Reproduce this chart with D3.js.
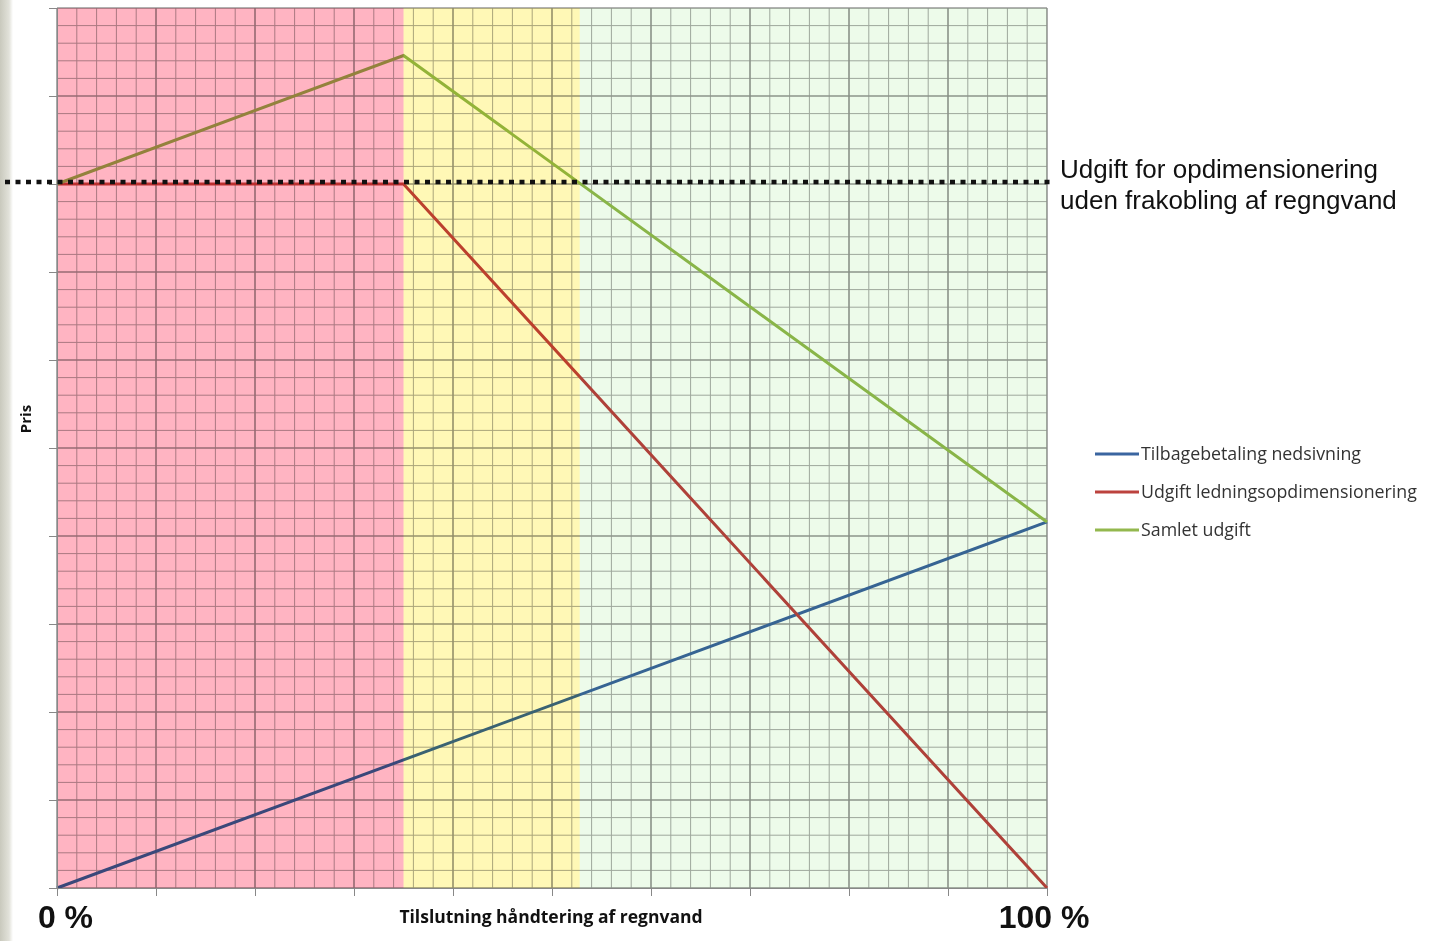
<!DOCTYPE html>
<html>
<head>
<meta charset="utf-8">
<script src="https://cdn.jsdelivr.net/npm/d3@7"></script>
<style>
  body { margin: 0; background: #fff; }
  svg { display: block; }
</style>
</head>
<body>
<div id="chart"></div>
<script>
// data (x in %, y in price units 0..10)
const blueSeries = [[0, 0], [100, 4.16]];
const redSeries = [[0, 8], [35, 8], [100, 0]];
const greenSeries = [[0, 8], [35, 9.46], [100, 4.16]];
const seriesNames = ["Tilbagebetaling nedsivning", "Udgift ledningsopdimensionering", "Samlet udgift"];
const seriesColors = ["#3a65a0", "#bc423e", "#93b84e"];
const bandStops = [0, 35, 52.8, 100];
const bandColors = ["#ffb4c2", "#fff8b6", "#edfbea"];
const thresholdValue = 8;
const thresholdLabel = ["Udgift for opdimensionering", "uden frakobling af regngvand"];

// setting up constants
const FRAME_WIDTH = 1429;
const FRAME_HEIGHT = 941;
const MARGINS = {left: 57, right: 382, top: 8, bottom: 53};
const VIS_WIDTH = FRAME_WIDTH - MARGINS.left - MARGINS.right;
const VIS_HEIGHT = FRAME_HEIGHT - MARGINS.top - MARGINS.bottom;

const svg = d3.select("#chart").append("svg")
  .attr("width", FRAME_WIDTH)
  .attr("height", FRAME_HEIGHT);

// left slide shadow strip
const grad = svg.append("defs").append("linearGradient").attr("id", "edge");
grad.append("stop").attr("offset", "0%").attr("stop-color", "#c9c9bd");
grad.append("stop").attr("offset", "70%").attr("stop-color", "#e2e2da");
grad.append("stop").attr("offset", "100%").attr("stop-color", "#ffffff");
svg.append("rect").attr("x", 0).attr("y", 0).attr("width", 13).attr("height", FRAME_HEIGHT)
  .attr("fill", "url(#edge)");

const x = d3.scaleLinear().domain([0, 100]).range([MARGINS.left, MARGINS.left + VIS_WIDTH]);
const y = d3.scaleLinear().domain([0, 10]).range([MARGINS.top + VIS_HEIGHT, MARGINS.top]);

const plot = svg.append("g");

// grid: minor lines then major
const minorX = d3.range(0, 100.01, 2), minorY = d3.range(0, 10.01, 0.2);
plot.append("g").selectAll("line").data(minorX).join("line")
  .attr("x1", d => x(d)).attr("x2", d => x(d))
  .attr("y1", y(0)).attr("y2", y(10))
  .attr("stroke", "#aaaaaa").attr("stroke-width", 1);
plot.append("g").selectAll("line").data(minorY).join("line")
  .attr("x1", x(0)).attr("x2", x(100))
  .attr("y1", d => y(d)).attr("y2", d => y(d))
  .attr("stroke", "#aaaaaa").attr("stroke-width", 1);
plot.append("g").selectAll("line").data(d3.range(0, 101, 10)).join("line")
  .attr("x1", d => x(d)).attr("x2", d => x(d))
  .attr("y1", y(0)).attr("y2", y(10))
  .attr("stroke", "#8e8e8e").attr("stroke-width", 1.2);
plot.append("g").selectAll("line").data(d3.range(0, 11, 1)).join("line")
  .attr("x1", x(0)).attr("x2", x(100))
  .attr("y1", d => y(d)).attr("y2", d => y(d))
  .attr("stroke", "#8e8e8e").attr("stroke-width", 1.2);

// axes (ticks only)
svg.append("g")
  .attr("transform", `translate(0, ${y(0)})`)
  .call(d3.axisBottom(x).tickValues(d3.range(0, 101, 10)).tickSize(8).tickFormat(""))
  .call(g => g.select(".domain").attr("stroke", "#888"))
  .call(g => g.selectAll(".tick line").attr("stroke", "#888"));
svg.append("g")
  .attr("transform", `translate(${x(0)}, 0)`)
  .call(d3.axisLeft(y).tickValues(d3.range(0, 11, 1)).tickSize(8).tickFormat(""))
  .call(g => g.select(".domain").attr("stroke", "#888"))
  .call(g => g.selectAll(".tick line").attr("stroke", "#888"));

// series lines
const line = d3.line().x(d => x(d[0])).y(d => y(d[1]));
[blueSeries, redSeries, greenSeries].forEach((s, i) => {
  plot.append("path").datum(s)
    .attr("fill", "none")
    .attr("stroke", seriesColors[i])
    .attr("stroke-width", 3)
    .attr("d", line);
});

// coloured bands multiplied over grid and lines
plot.append("g").selectAll("rect").data(bandColors).join("rect")
  .attr("x", (d, i) => x(bandStops[i]))
  .attr("width", (d, i) => x(bandStops[i + 1]) - x(bandStops[i]))
  .attr("y", y(10)).attr("height", y(0) - y(10))
  .attr("fill", d => d)
  .style("mix-blend-mode", "multiply");

// threshold dotted line with label
svg.append("line")
  .attr("x1", 5).attr("x2", 1055)
  .attr("y1", y(thresholdValue) - 2).attr("y2", y(thresholdValue) - 2)
  .attr("stroke", "#111").attr("stroke-width", 4.5)
  .attr("stroke-dasharray", "5,5.5");
svg.append("text")
  .attr("x", 1060).attr("y", 178)
  .attr("font-family", "Liberation Sans, Arial, sans-serif")
  .attr("font-size", 26).attr("fill", "#111")
  .selectAll("tspan").data(thresholdLabel).join("tspan")
  .attr("x", 1060).attr("dy", (d, i) => i === 0 ? 0 : 31)
  .text(d => d);

// legend
const legend = svg.append("g").attr("transform", "translate(1095, 454)");
seriesNames.forEach((name, i) => {
  const row = legend.append("g").attr("transform", `translate(0, ${i * 38})`);
  row.append("line").attr("x1", 0).attr("x2", 44).attr("y1", 0).attr("y2", 0)
    .attr("stroke", seriesColors[i]).attr("stroke-width", 3);
  row.append("text").attr("x", 46).attr("y", 6)
    .attr("font-family", "Open Sans, Lato, sans-serif")
    .attr("font-size", 17.8).attr("fill", "#333")
    .text(name);
});

// axis titles
svg.append("text")
  .attr("transform", "translate(31, 419) rotate(-90)")
  .attr("text-anchor", "middle")
  .attr("font-family", "Open Sans, sans-serif").attr("font-weight", "bold")
  .attr("font-size", 15).attr("fill", "#111")
  .text("Pris");
svg.append("text")
  .attr("x", 551).attr("y", 923)
  .attr("text-anchor", "middle")
  .attr("font-family", "Open Sans, sans-serif").attr("font-weight", "bold")
  .attr("font-size", 17.5).attr("fill", "#111")
  .text("Tilslutning håndtering af regnvand");
svg.append("text")
  .attr("x", 65.5).attr("y", 928)
  .attr("text-anchor", "middle")
  .attr("font-family", "Liberation Sans, Arial, sans-serif").attr("font-weight", "bold")
  .attr("font-size", 32).attr("fill", "#111")
  .text("0 %");
svg.append("text")
  .attr("x", 1044).attr("y", 928)
  .attr("text-anchor", "middle")
  .attr("font-family", "Liberation Sans, Arial, sans-serif").attr("font-weight", "bold")
  .attr("font-size", 32).attr("fill", "#111")
  .text("100 %");
</script>
</body>
</html>
